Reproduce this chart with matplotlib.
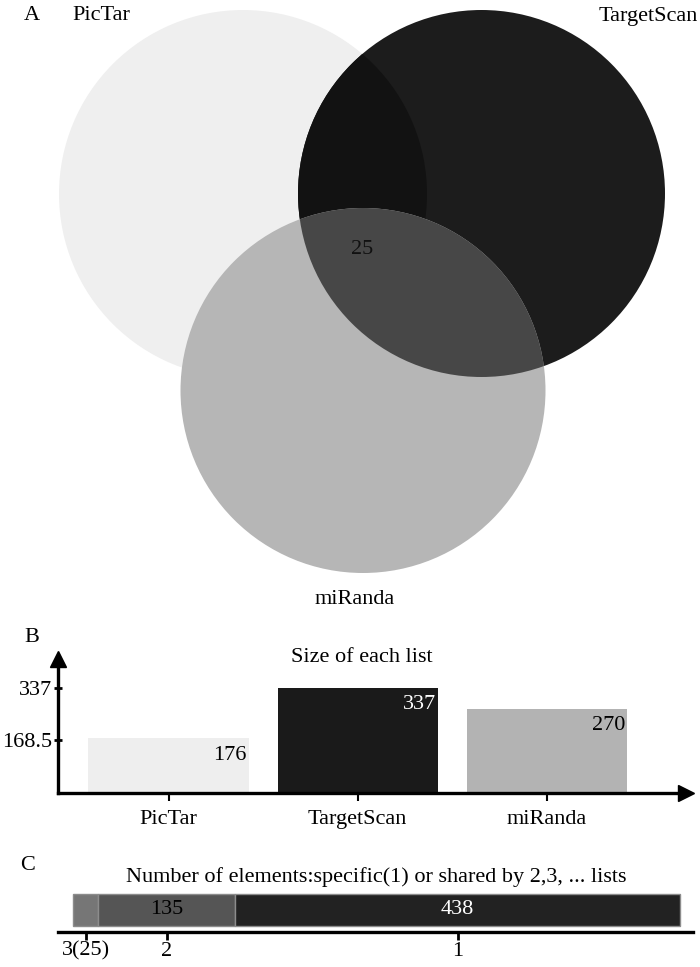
#!/usr/bin/env python3

import matplotlib
matplotlib.use("Agg")
import matplotlib.pyplot as plt
from matplotlib.patches import Circle

plt.rcParams['font.family'] = ['Liberation Serif', 'DejaVu Serif']
plt.rcParams['font.size'] = 16

# data
list_names = ["PicTar", "TargetScan", "miRanda"]
list_sizes = [176, 337, 270]
size_ticks = [168.5, 337]
shared_counts = [25, 135, 438]          # shared by 3, shared by 2, specific
shared_ticklabels = ["3(25)", "2", "1"]
venn_center_count = "25"

W, H = 700, 967
fig = plt.figure(figsize=(W / 100, H / 100), dpi=100)

# full-figure overlay in pixel coordinates for the venn diagram and labels
ov = fig.add_axes([0, 0, 1, 1])
ov.set_xlim(0, W)
ov.set_ylim(H, 0)
ov.axis("off")

# venn circles (layout only)
pic = (243, 194, 184)
tsc = (481.5, 193.5, 183.5)
mir = (363, 390.5, 182.5)


def circ(c, **kw):
    return Circle((c[0], c[1]), c[2], transform=ov.transData, **kw)


ov.add_patch(circ(pic, color="#efefef", lw=0))
ov.add_patch(circ(tsc, color="#1c1c1c", lw=0))
p = circ(tsc, color="#121212", lw=0)
ov.add_patch(p)
p.set_clip_path(circ(pic))
ov.add_patch(circ(mir, color="#b6b6b6", lw=0))
p = circ(tsc, color="#474747", lw=0)
ov.add_patch(p)
p.set_clip_path(circ(mir))

ov.text(362, 250, venn_center_count, ha="center", va="center", color="#111111")
ov.text(32, 16, "A", ha="center", va="center")
ov.text(72, 16, list_names[0], ha="left", va="center")
ov.text(698, 16, list_names[1], ha="right", va="center")
ov.text(355, 600, list_names[2], ha="center", va="center")

ov.text(32, 637, "B", ha="center", va="center")
ov.text(362, 657, "Size of each list", ha="center", va="center")
ov.text(28, 865, "C", ha="center", va="center")
ov.text(376, 877, "Number of elements:specific(1) or shared by 2,3, ... lists",
        ha="center", va="center")

# panel B: bar chart
bl, br, bb, bt = 58, 686, 793, 659
axb = fig.add_axes([bl / W, 1 - bb / H, (br - bl) / W, (bb - bt) / H])
axb.patch.set_alpha(0)
bar_colors = ["#eeeeee", "#1a1a1a", "#b3b3b3"]
xpos = list(range(len(list_names)))
bars = axb.bar(xpos, list_sizes, width=0.846, color=bar_colors)
axb.set_xlim(-0.584, 2.735)
axb.set_ylim(0, 430)
for sp in ["top", "right"]:
    axb.spines[sp].set_visible(False)
for sp in ["left", "bottom"]:
    axb.spines[sp].set_linewidth(2.4)
axb.set_yticks(size_ticks)
axb.set_yticklabels(["168.5", "337"])
axb.set_xticks(xpos)
axb.set_xticklabels(list_names)
axb.tick_params(axis="y", direction="inout", length=6, width=2, pad=1)
axb.tick_params(axis="x", direction="out", length=6, width=1.5, pad=6)
axb.plot(1, 0, ">k", ms=11, transform=axb.transAxes, clip_on=False)
axb.plot(0, 1, "^k", ms=11, transform=axb.transAxes, clip_on=False)
txt_colors = ["black", "white", "black"]
for b, v, c in zip(bars, list_sizes, txt_colors):
    axb.annotate(str(v), (b.get_x() + b.get_width(), v), xytext=(-2, -17),
                 textcoords="offset pixels", ha="right", va="center", color=c)

# panel C: stacked horizontal bar
cl, cr, cb, ct = 58, 693, 932, 890
axc = fig.add_axes([cl / W, 1 - cb / H, (cr - cl) / W, (cb - ct) / H])
axc.patch.set_alpha(0)
seg_colors = ["#767676", "#555555", "#222222"]
seg_text = ["", "black", "white"]
left = 0
centers = []
for n, col, tc in zip(shared_counts, seg_colors, seg_text):
    axc.barh(22, n, left=left, height=32, color=col, edgecolor="#8c8c8c", lw=1)
    centers.append(left + n / 2)
    if tc:
        axc.text(left + n / 2, 22, str(n), ha="center", va="center", color=tc)
    left += n
axc.set_xlim(-14.8, 611)
axc.set_ylim(0, 42)
for sp in ["top", "right", "left"]:
    axc.spines[sp].set_visible(False)
axc.spines["bottom"].set_linewidth(2.4)
axc.set_yticks([])
axc.set_xticks(centers)
axc.set_xticklabels(shared_ticklabels)
axc.tick_params(axis="x", direction="out", length=6, width=2, pad=1)

fig.savefig("out.png", dpi=100)
